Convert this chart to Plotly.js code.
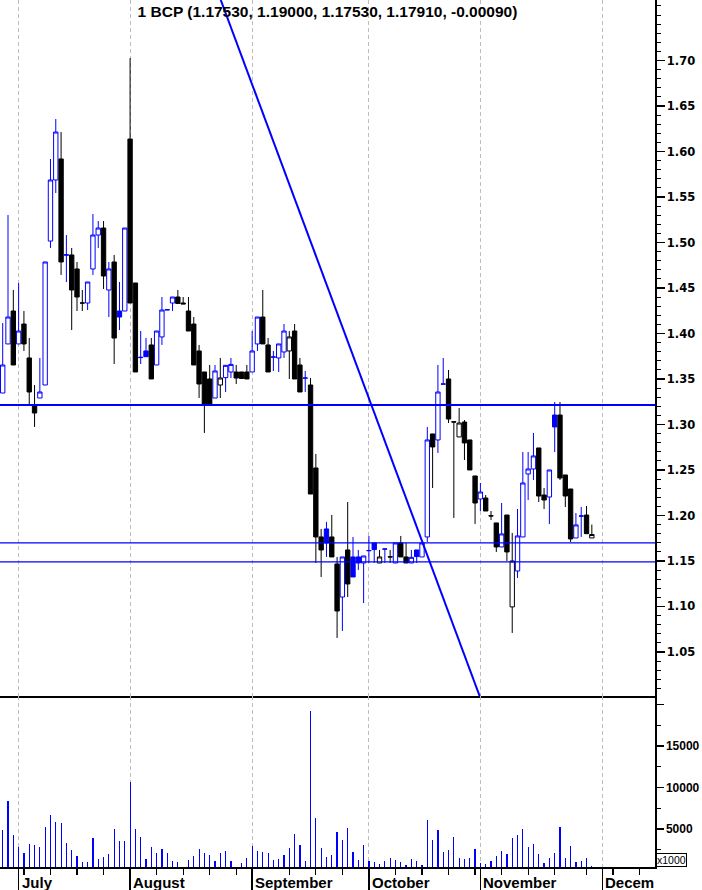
<!DOCTYPE html>
<html><head><meta charset="utf-8">
<script src="https://cdn.plot.ly/plotly-3.0.1.min.js"></script>
<style>html,body{margin:0;padding:0;background:#fff}#chart{width:702px;height:890px}</style>
</head><body><div id="chart"></div>
<script>
// ---- data (one entry per trading day, slot index = position) ----
const opens = [1.3346,1.3885,1.4247,1.3885,1.4104,1.3731,1.3214,1.3291,1.3434,1.5016,
1.5687,1.5918,1.4860,1.4863,1.4709,1.4335,1.4335,1.4709,1.5082,1.5159,
1.4478,1.4786,1.4247,1.4247,1.6137,1.4555,1.3735,1.3808,1.3874,1.3654,
1.3962,1.4258,1.4335,1.4401,1.4335,1.4247,1.4104,1.3808,1.3577,1.3500,
1.3291,1.3434,1.3515,1.3577,1.3577,1.3577,1.3577,1.3577,1.3885,1.4181,
1.3874,1.3740,1.3731,1.3797,1.3808,1.4027,1.3654,1.3509,1.3434,1.2522,
1.1764,1.1852,1.1764,1.1467,1.1104,1.1621,1.1544,1.1544,1.1478,1.1612,
1.1698,1.1478,1.1630,1.1546,1.1478,1.1698,1.1544,1.1478,1.1621,1.1544,
1.1764,1.2896,1.2830,1.3443,1.3500,1.3030,1.2863,1.3027,1.2830,1.2434,
1.2181,1.2192,1.1997,1.1918,1.1654,1.2005,1.0995,1.1390,1.1764,1.2456,
1.2511,1.2742,1.2225,1.2203,1.3104,1.3104,1.2445,1.2291,1.1753,1.1993,
1.2005,1.1753];
const highs = [1.4115,1.5302,1.4478,1.4555,1.4247,1.3951,1.3434,1.3731,1.4786,1.5918,
1.6357,1.6214,1.5082,1.4940,1.4786,1.4478,1.4566,1.5313,1.5236,1.5236,
1.4786,1.4863,1.4566,1.5159,1.7027,1.4555,1.4027,1.3951,1.3951,1.4027,
1.4401,1.4262,1.4401,1.4478,1.4401,1.4401,1.4181,1.3874,1.3577,1.3654,
1.3654,1.3731,1.3654,1.3731,1.3654,1.3577,1.3654,1.4027,1.4181,1.4478,
1.3951,1.3808,1.3885,1.4104,1.4027,1.4104,1.3731,1.3588,1.3511,1.2676,
1.1852,1.1929,1.2005,1.1544,1.1544,1.2148,1.1764,1.1621,1.1555,1.1775,
1.1698,1.1621,1.1632,1.1621,1.1698,1.1775,1.1698,1.1621,1.1621,1.1698,
1.2973,1.2896,1.3654,1.3731,1.3599,1.3030,1.3181,1.3049,1.2830,1.2434,
1.2357,1.2225,1.2049,1.1918,1.2137,1.2005,1.1808,1.2071,1.2698,1.2698,
1.2907,1.2742,1.2302,1.2500,1.3247,1.3247,1.2445,1.2291,1.2027,1.2093,
1.2104,1.1900];
const lows = [1.3346,1.3885,1.3654,1.3885,1.3808,1.3225,1.2973,1.3291,1.3434,1.4940,
1.5544,1.4643,1.4566,1.4038,1.4247,1.4247,1.4258,1.4643,1.4940,1.4489,
1.4181,1.3665,1.4038,1.4247,1.4335,1.3577,1.3665,1.3745,1.3500,1.3654,
1.3874,1.4258,1.4247,1.4330,1.4325,1.4027,1.3654,1.3291,1.2907,1.3214,
1.3291,1.3291,1.3357,1.3511,1.3445,1.3505,1.3500,1.3577,1.3808,1.3885,
1.3577,1.3588,1.3577,1.3731,1.3500,1.3500,1.3357,1.3357,1.2236,1.1478,
1.1324,1.1544,1.1544,1.0654,1.0731,1.1104,1.1324,1.1401,1.1038,1.1478,
1.1478,1.1478,1.1478,1.1478,1.1478,1.1544,1.1478,1.1478,1.1478,1.1544,
1.1709,1.2302,1.2687,1.3443,1.3016,1.1973,1.2863,1.2610,1.2500,1.1907,
1.2049,1.2049,1.1951,1.1599,1.1654,1.1500,1.0709,1.1313,1.1764,1.2170,
1.2390,1.2148,1.2071,1.1907,1.2698,1.2390,1.2093,1.1709,1.1753,1.1764,
1.1800,1.1753];
const closes = [1.3654,1.4181,1.3654,1.4027,1.3885,1.3357,1.3126,1.3357,1.4786,1.5687,
1.6214,1.4786,1.4865,1.4478,1.4401,1.4335,1.4566,1.5082,1.5159,1.4632,
1.4709,1.3950,1.4181,1.5159,1.4335,1.3577,1.3738,1.3745,1.3500,1.4027,
1.4258,1.4262,1.4401,1.4330,1.4325,1.4027,1.3654,1.3445,1.3225,1.3220,
1.3588,1.3511,1.3650,1.3660,1.3511,1.3505,1.3500,1.3808,1.4181,1.3885,
1.3577,1.3742,1.3885,1.4027,1.3962,1.3500,1.3357,1.3511,1.2236,1.1764,
1.1621,1.1698,1.1544,1.0950,1.1544,1.1247,1.1324,1.1478,1.1555,1.1615,
1.1625,1.1544,1.1632,1.1544,1.1698,1.1544,1.1478,1.1540,1.1548,1.1698,
1.2830,1.2753,1.3357,1.3445,1.3060,1.3027,1.3016,1.2797,1.2500,1.2137,
1.2258,1.2049,1.1995,1.1654,1.1797,1.1599,1.1500,1.1775,1.2357,1.2511,
1.2654,1.2214,1.2170,1.2500,1.2973,1.2412,1.2214,1.1742,1.1896,1.1995,
1.1800,1.1791];
const volumes = [4880,8373,4277,2831,2108,3193,3072,2831,5241,6687,
5843,5723,3313,2470,1747,1024,1024,3916,1386,1627,
1988,5000,3554,3554,10663,5000,4036,1386,2831,2108,
2590,2108,1145,1024,300,1265,1747,2590,2108,1867,
1145,2108,2349,1145,300,904,1506,2952,2349,2229,
2108,1265,1386,1867,2711,4398,3072,1145,19217,6325,
2711,1627,1867,4639,3675,5120,2229,1265,3072,1145,
1024,783,1145,1506,1265,1024,663,1386,1145,663,
6084,3675,4880,2229,2470,4036,1506,1386,1506,2590,
904,783,1145,1747,2349,1988,3916,4277,5000,2831,
3193,1988,904,1506,2108,5241,1506,2952,1024,1145,
1506,542];
const monthLabels = ['July','August','September','October','November','Decem'];
const monthStarts = [3,24,47,69,90,113];
const weekTicks = [4,9,14,19,29,34,39,44,54,59,64,74,79,84,89,94,99,104,110,115,120];
const priceTickVals = [1.05,1.10,1.15,1.20,1.25,1.30,1.35,1.40,1.45,1.50,1.55,1.60,1.65,1.70];
const priceLevels = [1.3214,1.1698,1.1489];
const levelWidths = [2,1.2,1.2];
const trendSlots = [41.08,89.86];
const trendPrices = [1.7665,1.0016];
const volTickVals = [5000,10000,15000,20000];
const volTickText = ['5000','10000','15000',''];
const titleText = '1 BCP (1.17530, 1.19000, 1.17530, 1.17910, -0.00090)';

const BLUE = '#0000ff', BLACK = '#000000';
const slots = opens.map((_, i) => i);
const blueIdx = [], blackIdx = [];
closes.forEach((c, i) => {
  const prev = i > 0 ? closes[i - 1] : -Infinity;
  (c >= prev ? blueIdx : blackIdx).push(i);
});
const pick = (arr, idx) => idx.map(i => arr[i]);
function candle(idx, color) {
  return {
    type: 'candlestick', x: idx,
    open: pick(opens, idx), high: pick(highs, idx), low: pick(lows, idx), close: pick(closes, idx),
    xaxis: 'x', yaxis: 'y',
    increasing: {line: {color: color, width: 1}, fillcolor: '#ffffff'},
    decreasing: {line: {color: color, width: 1}, fillcolor: color},
    whiskerwidth: 0, hoverinfo: 'skip', showlegend: false
  };
}
const traces = [
  candle(blueIdx, BLUE),
  candle(blackIdx, BLACK),
  {type: 'bar', x: slots, y: volumes, xaxis: 'x2', yaxis: 'y2', width: 0.22,
   marker: {color: BLUE, line: {width: 0}}, hoverinfo: 'skip', showlegend: false}
];

const shapes = priceLevels.map((p, i) => ({
  type: 'line', xref: 'paper', yref: 'y', x0: 0, x1: 1, y0: p, y1: p,
  line: {color: BLUE, width: levelWidths[i]}
}));
shapes.push({type: 'line', xref: 'x', yref: 'y', x0: trendSlots[0], x1: trendSlots[1],
  y0: trendPrices[0], y1: trendPrices[1], line: {color: BLUE, width: 2}});

const plotH = 867;
const split = (867 - 696) / plotH;
const annotations = monthLabels.map((m, i) => ({
  text: m, xref: 'x2', yref: 'paper', x: monthStarts[i], y: -15 / plotH,
  xanchor: 'left', yanchor: 'middle', xshift: 1, showarrow: false,
  font: {family: 'Liberation Sans, Arial, sans-serif', size: 15, color: '#000', weight: 'bold'}
}));
annotations.push({text: 'x1000', xref: 'paper', yref: 'paper', x: 1, y: 0,
  xanchor: 'left', yanchor: 'bottom', xshift: 1, showarrow: false,
  bordercolor: '#000', borderwidth: 1, borderpad: 0, bgcolor: '#fff',
  font: {family: 'Liberation Sans, Arial, sans-serif', size: 10.5, color: '#000'}});

const gridCommon = {showgrid: true, gridcolor: '#bdbdbd', gridwidth: 1, griddash: '4px,3px'};
const tickFont = {family: 'Liberation Sans, Arial, sans-serif', size: 12, color: '#000', weight: 'bold'};
const layout = {
  width: 702, height: 890, margin: {l: 0, r: 47, t: 0, b: 23, pad: 0},
  paper_bgcolor: '#fff', plot_bgcolor: '#fff', showlegend: false,
  boxgap: 0.18, boxgroupgap: 0, bargap: 0,
  title: {text: titleText, xref: 'paper', x: 0.5, xanchor: 'center',
          yref: 'container', y: 1 - 12 / 890, yanchor: 'middle',
          font: {family: 'Liberation Sans, Arial, sans-serif', size: 15.5, color: '#000', weight: 'bold'}},
  xaxis: Object.assign({domain: [0, 1], anchor: 'y', range: [-0.509, 122.9],
    tickmode: 'array', tickvals: monthStarts, showticklabels: false, ticks: '',
    showline: true, linecolor: '#000', linewidth: 1.5, zeroline: false,
    rangeslider: {visible: false}, fixedrange: true}, gridCommon),
  xaxis2: Object.assign({domain: [0, 1], anchor: 'y2', matches: 'x', range: [-0.509, 122.9],
    tickmode: 'array', tickvals: monthStarts, showticklabels: false,
    ticks: 'outside', ticklen: 23, tickcolor: '#000', tickwidth: 1.5,
    showline: true, linecolor: '#000', linewidth: 1.5, zeroline: false,
    rangeslider: {visible: false}, fixedrange: true,
    minor: {tickmode: 'array', tickvals: weekTicks, ticks: 'outside', ticklen: 6,
            tickcolor: '#000', tickwidth: 1.2, showgrid: false}}, gridCommon),
  yaxis: {domain: [split, 1], anchor: 'x', side: 'right', range: [1.0016, 1.7665],
    tickmode: 'array', tickvals: priceTickVals, tickformat: '.2f', ticks: 'outside', ticklen: 8,
    tickcolor: '#000', tickwidth: 1.2, showline: true, linecolor: '#000', linewidth: 1.5,
    showgrid: false, zeroline: false, fixedrange: true,
    tickfont: Object.assign({}, tickFont, {family: 'DejaVu Sans, sans-serif', size: 11.5}),
    minor: {tickmode: 'linear', tick0: 1.0, dtick: 0.01, ticks: 'outside', ticklen: 4, tickcolor: '#000', tickwidth: 1, showgrid: false}},
  yaxis2: {domain: [0, split], anchor: 'x2', side: 'right', range: [422, 21024],
    tickmode: 'array', tickvals: volTickVals, ticktext: volTickText,
    ticks: 'outside', ticklen: 7, tickcolor: '#000', tickwidth: 1.2,
    showline: true, linecolor: '#000', linewidth: 1.5,
    showgrid: false, zeroline: false, fixedrange: true, tickfont: tickFont,
    minor: {tickmode: 'array', tickvals: [2500, 7500, 12500, 17500], ticks: 'outside', ticklen: 4,
            tickcolor: '#000', tickwidth: 1, showgrid: false}},
  shapes: shapes, annotations: annotations
};
Plotly.newPlot('chart', traces, layout, {staticPlot: true, displayModeBar: false});
</script>
</body></html>
